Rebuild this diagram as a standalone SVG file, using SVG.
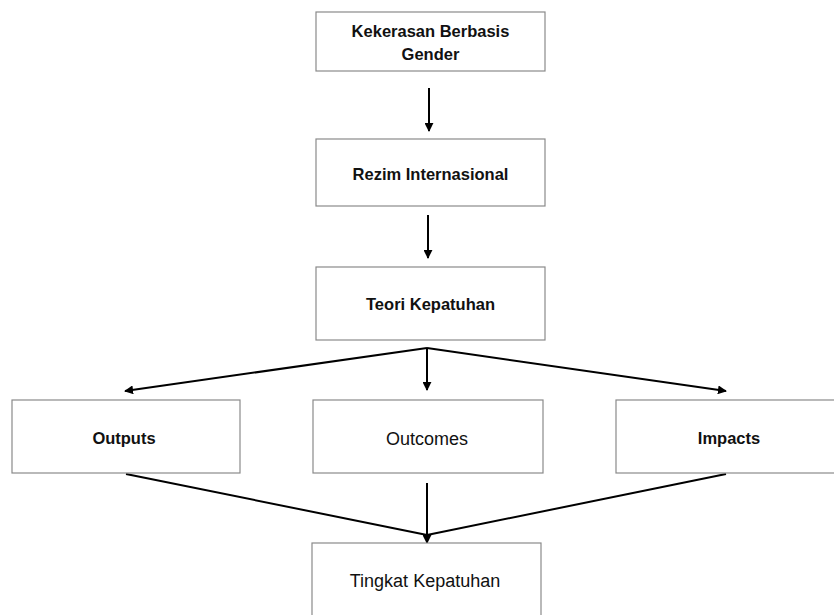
<svg xmlns="http://www.w3.org/2000/svg" width="834" height="615" viewBox="0 0 834 615">
<style>
.box{fill:#fff;stroke:#8a8a8a;stroke-width:1.2}
.b{font-family:"Liberation Sans",Arial,sans-serif;font-weight:bold;font-size:16.5px;fill:#111;text-anchor:middle}
.n{font-family:"Liberation Sans",Arial,sans-serif;font-size:18px;fill:#111;text-anchor:middle}
.c{stroke:#000;stroke-width:2;fill:none}
</style>
<defs>
<marker id="ah" viewBox="0 0 10 10" refX="9" refY="5" markerWidth="4.5" markerHeight="4.5" orient="auto" markerUnits="strokeWidth">
<path d="M0,0 L10,5 L0,10 z" fill="#000"/>
</marker>
</defs>
<rect width="834" height="615" fill="#fff"/>
<g id="connectors">
<line class="c" x1="429" y1="88" x2="429" y2="131" marker-end="url(#ah)"/>
<line class="c" x1="428" y1="215" x2="428" y2="258" marker-end="url(#ah)"/>
<line class="c" x1="427" y1="348" x2="125" y2="391" marker-end="url(#ah)"/>
<line class="c" x1="427" y1="348" x2="427" y2="390" marker-end="url(#ah)"/>
<line class="c" x1="427" y1="348" x2="726" y2="391" marker-end="url(#ah)"/>
<line class="c" x1="126" y1="474" x2="427" y2="535"/>
<line class="c" x1="726" y1="474" x2="427" y2="535"/>
<line class="c" x1="427" y1="483" x2="427" y2="543" marker-end="url(#ah)"/>
</g>
<g id="n1"><rect class="box" x="316" y="12" width="229" height="59"/><text class="b" x="430.5" y="37">Kekerasan Berbasis</text><text class="b" x="430.5" y="60">Gender</text></g>
<g id="n2"><rect class="box" x="316" y="139" width="229" height="67"/><text class="b" x="430.5" y="180">Rezim Internasional</text></g>
<g id="n3"><rect class="box" x="316" y="267" width="229" height="73"/><text class="b" x="430.5" y="310">Teori Kepatuhan</text></g>
<g id="n4"><rect class="box" x="12" y="400" width="228" height="73"/><text class="b" x="124" y="444">Outputs</text></g>
<g id="n5"><rect class="box" x="313" y="400" width="230" height="73"/><text class="n" x="427" y="445">Outcomes</text></g>
<g id="n6"><rect class="box" x="616" y="400" width="230" height="73"/><text class="b" x="729" y="444">Impacts</text></g>
<g id="n7"><rect class="box" x="312" y="543" width="229" height="80"/><text class="n" x="425" y="587">Tingkat Kepatuhan</text></g>
</svg>
